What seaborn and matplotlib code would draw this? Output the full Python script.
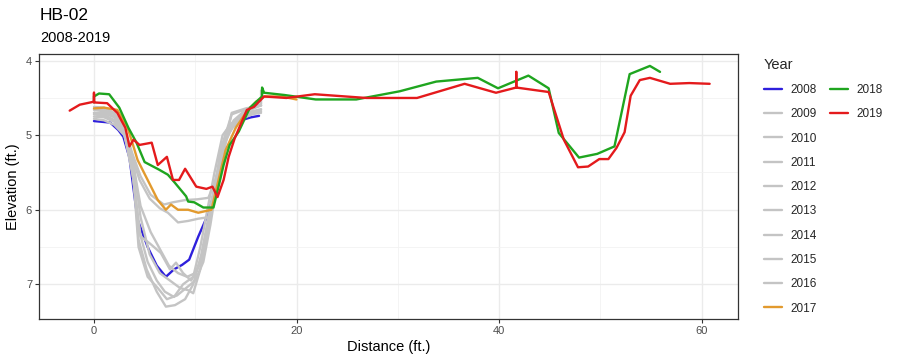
import numpy as np
import pandas as pd
import matplotlib
matplotlib.use("Agg")
import matplotlib.pyplot as plt
from matplotlib.lines import Line2D
from matplotlib.ticker import MultipleLocator
import seaborn as sns

# ---- data ----
years = [2008, 2009, 2010, 2011, 2012, 2013, 2014, 2015, 2016, 2017, 2018, 2019]

x2008 = [0, 1.6, 2.4, 2.9, 3.5, 4.3, 5.3, 6.2, 7.1, 7.9, 8.7, 9.4, 10.3, 11.3, 12.0, 12.8, 13.6, 14.5, 15.5, 16.3]
y2008 = [4.81, 4.83, 4.93, 5.02, 5.3, 6.13, 6.5, 6.75, 6.9, 6.8, 6.74, 6.67, 6.36, 6.05, 5.7, 5.1, 4.9, 4.8, 4.76, 4.74]

x2009 = [0, 1, 2, 3, 3.8, 4.5, 5.5, 6.5, 7.3, 8.3, 9.3, 10.3, 11.3, 12.2, 13, 14, 15, 16.5]
y2009 = [4.72, 4.74, 4.8, 4.98, 5.3, 5.6, 5.85, 5.98, 6.04, 6.17, 6.15, 6.12, 6.1, 5.6, 5.05, 4.8, 4.7, 4.65]

x2010 = [0, 1, 2, 3, 3.8, 4.6, 5.6, 6.9, 7.8, 9.0, 10.2, 11.3, 12.0, 12.8, 13.6, 15, 16.5]
y2010 = [4.65, 4.66, 4.72, 4.9, 5.25, 5.55, 5.8, 5.93, 5.9, 5.87, 5.86, 5.84, 5.6, 5.2, 4.7, 4.64, 4.6]

x2011 = [0, 1, 2, 3, 3.9, 4.4, 5.2, 6.2, 7.1, 8.0, 9.0, 9.8, 10.6, 11.3, 12.0, 12.8, 13.6, 14.6, 15.6, 16.5]
y2011 = [4.78, 4.8, 4.86, 5.0, 5.5, 6.4, 6.8, 7.1, 7.3, 7.28, 7.2, 7.0, 6.6, 6.1, 5.6, 5.15, 4.9, 4.78, 4.72, 4.68]

x2012 = [0, 1, 2, 3, 3.9, 4.5, 5.3, 6.2, 7.0, 7.9, 8.8, 9.8, 10.5, 11.2, 11.9, 12.7, 13.5, 14.5, 15.5, 16.5]
y2012 = [4.7, 4.72, 4.8, 4.98, 5.6, 6.3, 6.7, 6.95, 7.1, 7.17, 7.0, 6.9, 6.5, 6.0, 5.5, 5.0, 4.85, 4.75, 4.7, 4.66]

x2013 = [0, 1, 2, 3, 3.9, 4.6, 5.5, 6.5, 7.5, 8.5, 9.3, 9.8, 10.5, 11.2, 12.0, 12.8, 13.6, 14.6, 15.6, 16.5]
y2013 = [4.62, 4.63, 4.7, 4.9, 5.4, 6.1, 6.6, 6.85, 6.95, 7.05, 7.08, 7.12, 6.8, 6.3, 5.7, 5.1, 4.85, 4.72, 4.65, 4.6]

x2014 = [0, 1, 2, 3, 3.8, 4.6, 5.5, 6.6, 7.5, 8.1, 8.8, 9.6, 10.4, 11.0, 11.7, 12.5, 13.6, 15, 16.5]
y2014 = [4.7, 4.7, 4.76, 4.95, 5.5, 6.36, 6.45, 6.58, 6.8, 6.71, 6.85, 6.95, 6.75, 6.4, 5.9, 5.2, 4.72, 4.65, 4.6]

x2015 = [0, 1, 2, 3, 3.9, 4.6, 5.6, 6.6, 7.4, 8.3, 9.2, 10.0, 10.8, 11.5, 12.3, 13.2, 14.2, 15.3, 16.5]
y2015 = [4.75, 4.76, 4.82, 5.0, 5.4, 5.95, 6.3, 6.55, 6.75, 6.85, 6.9, 6.85, 6.6, 6.1, 5.5, 5.0, 4.8, 4.72, 4.7]

x2016 = [0, 1, 2, 3, 3.8, 4.4, 5.3, 6.3, 7.2, 8.2, 9.1, 10.0, 10.8, 11.5, 12.2, 13.0, 13.8, 14.8, 15.8, 16.5, 16.5]
y2016 = [4.66, 4.68, 4.75, 4.92, 5.4, 6.5, 6.9, 7.05, 7.2, 7.15, 7.05, 6.95, 6.7, 6.2, 5.6, 5.0, 4.8, 4.68, 4.62, 4.58, 4.4]

x2017 = [0, 1, 2.3, 3.3, 3.9, 4.3, 5.3, 6.3, 7.1, 7.6, 8.3, 9.3, 10.3, 11.6, 12.3, 13.0, 14.0, 15.0, 16.0, 16.8, 18.5, 20.0]
y2017 = [4.64, 4.63, 4.66, 4.89, 5.15, 5.33, 5.6, 5.87, 6.0, 5.93, 6.0, 6.0, 6.04, 6.0, 5.6, 5.2, 4.9, 4.7, 4.55, 4.48, 4.48, 4.52]

x2018 = [0, 0, 0.5, 1.5, 2.5, 3.4, 4.2, 5.0, 6.4, 7.3, 8.0, 9.1, 9.3, 9.9, 10.8, 11.8, 12.3, 12.8, 13.4, 14.3, 15.4,
         16.6, 16.6, 16.8, 18.8, 21.9, 25.9, 30.2, 33.8, 37.9, 39.9, 42.9, 44.9, 45.9, 47.9, 49.7, 51.4, 52.9, 54.9, 55.9]
y2018 = [4.56, 4.48, 4.44, 4.45, 4.63, 4.9, 5.1, 5.36, 5.46, 5.53, 5.64, 5.82, 5.89, 5.9, 5.97, 5.97, 5.69, 5.4, 5.13, 4.95, 4.63,
         4.48, 4.36, 4.43, 4.46, 4.52, 4.52, 4.41, 4.28, 4.23, 4.37, 4.2, 4.37, 4.97, 5.3, 5.25, 5.15, 4.18, 4.07, 4.15]

x2019 = [-2.4, -1.4, 0, 0, 0, 1.3, 2.3, 3.1, 3.5, 3.9, 4.5, 5.7, 6.3, 7.2, 7.8, 8.4, 9.0, 10.1, 11.1, 11.7, 12.2, 12.8,
         13.3, 13.9, 15.1, 15.8, 16.8, 19.0, 21.8, 26.9, 31.9, 36.6, 39.7, 41.7, 41.7, 41.7, 44.9, 46.4, 47.8, 48.8,
         49.9, 50.8, 51.6, 52.4, 53.0, 53.9, 54.9, 56.9, 58.8, 60.8]
y2019 = [4.67, 4.59, 4.55, 4.43, 4.56, 4.57, 4.7, 4.9, 5.15, 5.06, 5.13, 5.1, 5.4, 5.29, 5.6, 5.6, 5.45, 5.69, 5.72, 5.69, 5.83, 5.6,
         5.29, 5.04, 4.66, 4.62, 4.48, 4.5, 4.45, 4.5, 4.5, 4.31, 4.43, 4.36, 4.15, 4.36, 4.42, 5.06, 5.43, 5.42,
         5.32, 5.32, 5.17, 4.96, 4.47, 4.26, 4.23, 4.31, 4.3, 4.31]

xs = [x2008, x2009, x2010, x2011, x2012, x2013, x2014, x2015, x2016, x2017, x2018, x2019]
ys = [y2008, y2009, y2010, y2011, y2012, y2013, y2014, y2015, y2016, y2017, y2018, y2019]

frames = []
for yr, xv, yv in zip(years, xs, ys):
    frames.append(pd.DataFrame({"Distance": xv, "Elevation": yv, "Year": str(yr)}))
df = pd.concat(frames, ignore_index=True)

grey = "#C4C4C4"
palette = {str(y): grey for y in years}
palette["2008"] = "#2E1FDC"
palette["2017"] = "#E29A2E"
palette["2018"] = "#1FA51F"
palette["2019"] = "#E41A1C"

# ---- figure ----
sns.set_theme(style="white")
plt.rcParams["font.family"] = ["Liberation Sans", "DejaVu Sans"]

fig = plt.figure(figsize=(9.0, 3.63), dpi=100)
ax = fig.add_axes([39 / 900, 1 - 319 / 363, (738 - 39) / 900, (319 - 54) / 363])

sns.lineplot(data=df, x="Distance", y="Elevation", hue="Year", palette=palette,
             hue_order=[str(y) for y in years], estimator=None, sort=False,
             linewidth=1.7, ax=ax, legend=True)

ax.set_xlim(-5.43, 63.6)
ax.set_ylim(7.466, 3.91)
ax.xaxis.set_major_locator(MultipleLocator(20))
ax.xaxis.set_minor_locator(MultipleLocator(10))
ax.yaxis.set_major_locator(MultipleLocator(1))
ax.yaxis.set_minor_locator(MultipleLocator(0.5))
ax.grid(which="major", color="#EBEBEB", linewidth=1.0)
ax.grid(which="minor", color="#F2F2F2", linewidth=0.6)
ax.set_axisbelow(True)
for s in ax.spines.values():
    s.set_color("#333333")
    s.set_linewidth(0.9)
ax.tick_params(axis="both", which="major", length=3, width=0.8, color="#333333",
               labelsize=8, labelcolor="#4D4D4D", pad=2, bottom=True, left=True)
ax.tick_params(which="minor", length=0)
ax.set_xlabel("Distance (ft.)", fontsize=10.5, color="black", labelpad=3)
ax.set_ylabel("Elevation (ft.)", fontsize=10.5, color="black", labelpad=4)

fig.text(40 / 900, 1 - 16 / 363, "HB-02", fontsize=12.5, ha="left", va="center", color="black")
fig.text(40 / 900, 1 - 38 / 363, "2008-2019", fontsize=10.5, ha="left", va="center", color="black")

# legend: first column 2008-2017, second 2018-2019
handles, labels = ax.get_legend_handles_labels()
ax.get_legend().remove()
hmap = dict(zip(labels, handles))
blank = Line2D([], [], color="none")
hs = [hmap[str(y)] for y in years] + [blank] * 8
ls = [str(y) for y in years] + [""] * 8
for h in hs:
    h.set_linewidth(1.7)
leg = fig.legend(hs, ls, ncol=2, loc="upper left", bbox_to_anchor=(759 / 900, 1 - 53 / 363),
                 frameon=False, fontsize=8.5, title="Year", title_fontsize=10.5,
                 handlelength=1.55, handletextpad=0.75, columnspacing=1.05,
                 labelspacing=1.04, alignment="left", borderaxespad=0)

fig.savefig("out.png", dpi=100)
